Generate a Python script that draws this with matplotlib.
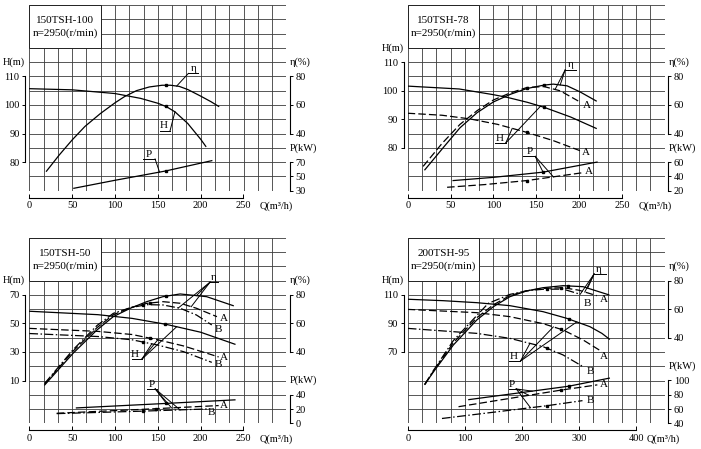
import numpy as np
import matplotlib
matplotlib.use("Agg")
import matplotlib.pyplot as plt
from matplotlib.patches import Rectangle
from matplotlib.transforms import blended_transform_factory

plt.rcParams['font.family'] = ['Liberation Serif', 'DejaVu Serif']
plt.rcParams['font.size'] = 7.5

# ---------------- 150TSH-100 ----------------
t100_h_q = [0, 50, 100, 130, 150, 160, 170, 185, 200, 206]
t100_h = [105.7, 105.3, 104.0, 102.3, 100.6, 99.4, 97.6, 93.5, 88.0, 85.5]
t100_eta_q = [20, 35, 50, 65, 83, 100, 111, 125, 140, 155, 165, 175, 185, 200, 212, 221]
t100_eta = [13.6, 25, 35.5, 45, 54, 61.5, 65.8, 70, 72.6, 73.8, 73.8, 73, 70.8, 66.2, 62.3, 59]
t100_p_q = [52, 100, 159, 213]
t100_p = [33.3, 44.5, 57.5, 72.0]

# ---------------- 150TSH-78 ----------------
t78_h_q = [0, 60, 100, 117, 140, 159, 190, 220]
t78_h = [101.6, 100.6, 98.6, 97.6, 95.9, 94.2, 90.8, 86.8]
t78_ha_q = [0, 40, 73, 105, 139, 170, 201]
t78_ha = [92.1, 91.4, 90.1, 88.2, 85.4, 82.5, 79.0]
t78_eta_q = [20, 42, 61, 81, 100, 120, 139, 159, 170, 186, 201, 220]
t78_eta = [14.6, 30.5, 44, 54.6, 62.1, 67.5, 71.5, 73.9, 74.6, 73.4, 69.2, 62.8]
t78_etaa_q = [18, 40, 61, 81, 100, 120, 139, 159, 178, 199]
t78_etaa = [17, 33, 46.4, 56, 63.5, 68.5, 72.2, 72.9, 69.9, 62.8]
t78_p_q = [53, 100, 158, 221]
t78_p = [34.1, 38.6, 45.9, 60.0]
t78_pa_q = [46, 90, 139, 203]
t78_pa = [24.7, 28.5, 34.1, 44.9]

# ---------------- 150TSH-50 ----------------
t50_h_q = [0, 80, 120, 160, 200, 240]
t50_h = [58.5, 56.1, 53.5, 49.3, 43.8, 35.4]
t50_ha_q = [0, 80, 120, 150, 180, 221]
t50_ha = [46.5, 44.4, 42.2, 38.5, 34.2, 26.5]
t50_hb_q = [0, 80, 120, 150, 180, 213]
t50_hb = [42.9, 40.8, 38.5, 34.8, 30.2, 22.7]
t50_eta_q = [18, 51, 79, 98, 118, 137, 156, 176, 207, 238]
t50_eta = [16.9, 39, 55.4, 64.7, 70.6, 75.2, 78.7, 80.6, 78.7, 72.4]
t50_etaa_q = [18, 51, 79, 98, 118, 137, 156, 176, 195, 219]
t50_etaa = [17.5, 40.5, 57, 66, 71, 74, 75.2, 74.1, 70.6, 64.7]
t50_etab_q = [18, 51, 79, 98, 118, 137, 156, 176, 195, 213]
t50_etab = [18, 41.5, 58.5, 67, 71, 73.1, 72.9, 70.6, 65.9, 58.9]
t50_p_q = [55, 150, 240]
t50_p = [21.6, 27.3, 32.9]
t50_pa_q = [32, 130, 221]
t50_pa = [14.1, 19.5, 24.9]
t50_pb_q = [32, 130, 209]
t50_pb = [13.6, 17.0, 20.2]

# ---------------- 200TSH-95 ----------------
t95_h_q = [0, 62, 121, 179, 237, 278, 319, 340, 353]
t95_h = [106.9, 105.9, 104.5, 102.4, 98.2, 93.6, 87.7, 83.0, 79.0]
t95_ha_q = [0, 121, 179, 237, 272, 307, 340]
t95_ha = [99.8, 97.5, 94.7, 89.8, 85.4, 78.4, 70.2]
t95_hb_q = [0, 121, 179, 237, 272, 307]
t95_hb = [86.5, 83.0, 79.5, 73.7, 67.9, 59.7]
t95_eta_q = [30, 45, 80, 121, 150, 179, 208, 237, 272, 307, 352]
t95_eta = [7.3, 16, 34.9, 52.4, 61.7, 68.7, 72.7, 75, 76.4, 75.7, 70]
t95_etaa_q = [30, 45, 80, 121, 150, 179, 208, 237, 272, 300, 331]
t95_etaa = [7.3, 16.5, 36.5, 54, 63, 69.5, 72.8, 74.5, 75, 73.2, 69.4]
t95_etab_q = [30, 45, 80, 121, 141, 179, 208, 237, 272, 302]
t95_etab = [7.3, 17, 38, 55.5, 64, 70.3, 72.8, 73.9, 74, 70.4]
t95_p_q = [107, 282, 353]
t95_p = [73.2, 92.0, 103.3]
t95_pa_q = [89, 268, 332]
t95_pa = [63.3, 86.5, 93.9]
t95_pb_q = [60, 244, 306]
t95_pb = [46.8, 64.7, 71.8]

FIG_W, FIG_H = 701, 449
CELL = 14.28
GRID_W, GRID_H = 18 * CELL, 13 * CELL
STYLES = {'s': '-', 'a': (0, (6, 2.5)), 'b': (0, (7, 2, 1.2, 2))}

fig = plt.figure(figsize=(7.01, 4.49), dpi=100)


def panel(left, top, title, qmax, q_ticks, qlab_x, hlim, h_ticks, elim, e_ticks,
          plim, p_ticks, lab_h, curves, leaders, tags, dots):
    rect = [left / FIG_W, 1 - (top + GRID_H) / FIG_H, GRID_W / FIG_W, GRID_H / FIG_H]
    ax = fig.add_axes(rect)
    ax.set_xlim(0, qmax)
    ax.set_ylim(*hlim)
    col = qmax / 18
    row = (hlim[1] - hlim[0]) / 13

    # grid and model box
    ax.vlines(np.arange(19) * col, hlim[0], hlim[1], colors='#3a3a3a', lw=0.6, zorder=1)
    ax.hlines(hlim[0] + np.arange(14) * row, 0, qmax, colors='#3a3a3a', lw=0.6, zorder=1)
    ax.add_patch(Rectangle((0, hlim[1] - 3 * row), 5 * col, 3 * row, fc='white',
                           ec='#222222', lw=0.7, zorder=2))
    ax.text(2.5 * col, hlim[1] - 1.1 * row, title, ha='center', va='center', fontsize=8, zorder=3)
    ax.text(2.5 * col, hlim[1] - 2.0 * row, 'n=2950(r/min)', ha='center', va='center',
            fontsize=8, zorder=3)

    for s in ['top', 'right']:
        ax.spines[s].set_visible(False)
    ax.spines['left'].set_position(('outward', 3))
    ax.spines['left'].set_bounds(h_ticks[0], h_ticks[-1])
    ax.spines['bottom'].set_position(('outward', 5))
    ax.spines['bottom'].set_bounds(0, q_ticks[-1])
    ax.set_yticks(h_ticks)
    ax.set_xticks(q_ticks)
    ax.tick_params(axis='y', direction='out', length=2.5, width=0.7, pad=1.5)
    ax.tick_params(axis='x', direction='in', length=3, width=0.7, pad=2.5)

    twins = {}
    for key, lim, ticks in [('e', elim, e_ticks), ('p', plim, p_ticks)]:
        tw = ax.twinx()
        tw.set_ylim(*lim)
        for s in ['top', 'left', 'bottom']:
            tw.spines[s].set_visible(False)
        tw.spines['right'].set_position(('outward', 2.5))
        tw.spines['right'].set_bounds(ticks[0], ticks[-1])
        tw.set_yticks(ticks)
        tw.tick_params(axis='y', direction='out', length=2.5, width=0.7, pad=1.5)
        twins[key] = tw

    tr = blended_transform_factory(ax.transAxes, ax.transData)
    ax.text(-0.102, lab_h[0], 'H(m)', transform=tr, ha='left', va='center')
    ax.text(1.014, lab_h[1], 'η(%)', transform=tr, ha='left', va='center')
    ax.text(1.014, lab_h[2], 'P(kW)', transform=tr, ha='left', va='center')
    ax.annotate('Q(m³/h)', xy=(qlab_x, 0), xycoords='axes fraction', xytext=(0, -11.5),
                textcoords='offset points', ha='left', va='center')

    def to_h(scale, v):
        if scale == 'h':
            return v
        lim = elim if scale == 'e' else plim
        return hlim[0] + (v - lim[0]) * (hlim[1] - hlim[0]) / (lim[1] - lim[0])

    # curves
    table = {}
    for name, scale, q, v, style in curves:
        target = ax if scale == 'h' else twins[scale]
        target.plot(q, v, color='black', lw=0.9, ls=STYLES[style], zorder=4)
        table[name] = (scale, q, v)

    def point(name, q):
        scale, cq, cv = table[name]
        return to_h(scale, np.interp(q, cq, cv))

    for name, q in dots:
        ax.plot([q], [point(name, q)], 's', ms=1.6, color='black', zorder=5)

    # labels with leader lines
    for txt, tx, u0, u1, uy, ex, targets in leaders:
        ax.plot([u0, u1], [uy, uy], color='black', lw=0.7, zorder=5)
        ax.annotate(txt, xy=(tx, uy), xytext=(0, 0.3), textcoords='offset points',
                    ha='center', va='bottom', fontsize=8, zorder=6)
        for name, q in targets:
            ax.plot([ex, q], [uy, point(name, q)], color='black', lw=0.7, zorder=5)

    for txt, tx, ty in tags:
        ax.text(tx, ty, txt, ha='center', va='center', fontsize=8, zorder=6)


panel(29.3, 5, '150TSH-100', 300, [0, 50, 100, 150, 200, 250], 0.898,
      (70, 135), [80, 90, 100, 110], (0, 130), [40, 60, 80], (30, 290), [30, 50, 70],
      (115, 115, 85),
      [('h', 'h', t100_h_q, t100_h, 's'),
       ('eta', 'e', t100_eta_q, t100_eta, 's'),
       ('p', 'p', t100_p_q, t100_p, 's')],
      [('η', 191.5, 185.7, 197.4, 111.05, 185.7, [('eta', 172)]),
       ('H', 156.5, 152, 164.3, 91.0, 164.3, [('h', 170)]),
       ('P', 139, 133, 146.8, 81.1, 146.8, [('p', 152)])],
      [],
      [('h', 159), ('eta', 159), ('p', 159)])

panel(407.7, 5, '150TSH-78', 300, [0, 50, 100, 150, 200, 250], 0.898,
      (65, 130), [80, 90, 100, 110], (0, 130), [40, 60, 80], (20, 280), [20, 40, 60],
      (115, 110, 80),
      [('h', 'h', t78_h_q, t78_h, 's'),
       ('h_a', 'h', t78_ha_q, t78_ha, 'a'),
       ('eta', 'e', t78_eta_q, t78_eta, 's'),
       ('eta_a', 'e', t78_etaa_q, t78_etaa, 'a'),
       ('p', 'p', t78_p_q, t78_p, 's'),
       ('p_a', 'p', t78_pa_q, t78_pa, 'a')],
      [('η', 190.4, 183.8, 196.6, 107.3, 183.8, [('eta', 178), ('eta_a', 172)]),
       ('H', 107, 102, 114.5, 81.7, 114.5, [('h', 155), ('h_a', 122)]),
       ('P', 143, 135, 148.8, 77.0, 148.8, [('p', 158), ('p_a', 170)])],
      [('A', 209, 94.8), ('A', 208.3, 78.2), ('A', 211, 71.6)],
      [('h', 159), ('eta', 159), ('p', 158), ('h_a', 139), ('eta_a', 139), ('p_a', 139)])

panel(29.3, 237.7, '150TSH-50', 300, [0, 50, 100, 150, 200, 250], 0.898,
      (-20, 110), [10, 30, 50, 70], (-10, 120), [40, 60, 80], (0, 260), [0, 20, 40],
      (80, 80, 10),
      [('h', 'h', t50_h_q, t50_h, 's'),
       ('h_a', 'h', t50_ha_q, t50_ha, 'a'),
       ('h_b', 'h', t50_hb_q, t50_hb, 'b'),
       ('eta', 'e', t50_eta_q, t50_eta, 's'),
       ('eta_a', 'e', t50_etaa_q, t50_etaa, 'a'),
       ('eta_b', 'e', t50_etab_q, t50_etab, 'b'),
       ('p', 'p', t50_p_q, t50_p, 's'),
       ('p_a', 'p', t50_pa_q, t50_pa, 'a'),
       ('p_b', 'p', t50_pb_q, t50_pb, 'b')],
      [('η', 215, 211, 220.8, 78.9, 211, [('eta', 195), ('eta_a', 189), ('eta_b', 174)]),
       ('H', 123.3, 119.5, 131.2, 24.8, 131.2, [('h', 172), ('h_a', 150), ('h_b', 143)]),
       ('P', 143, 137, 148.8, 4.1, 147, [('p', 160), ('p_a', 166), ('p_b', 176)])],
      [('A', 227.4, 53.5), ('B', 220.8, 46), ('A', 227.4, 25.8), ('B', 220.8, 21),
       ('A', 227.4, -7.6), ('B', 213, -12.4)],
      [('h', 158), ('eta', 160), ('h_a', 141), ('eta_a', 141), ('h_b', 133), ('eta_b', 133),
       ('p', 160), ('p_a', 148), ('p_b', 133)])

panel(407.7, 237.7, '200TSH-95', 450, [0, 100, 200, 300, 400], 0.93,
      (20, 150), [70, 90, 110], (-20, 110), [40, 60, 80], (40, 300), [40, 60, 80, 100],
      (120, 130, 60),
      [('h', 'h', t95_h_q, t95_h, 's'),
       ('h_a', 'h', t95_ha_q, t95_ha, 'a'),
       ('h_b', 'h', t95_hb_q, t95_hb, 'b'),
       ('eta', 'e', t95_eta_q, t95_eta, 's'),
       ('eta_a', 'e', t95_etaa_q, t95_etaa, 'a'),
       ('eta_b', 'e', t95_etab_q, t95_etab, 'b'),
       ('p', 'p', t95_p_q, t95_p, 's'),
       ('p_a', 'p', t95_pa_q, t95_pa, 'a'),
       ('p_b', 'p', t95_pb_q, t95_pb, 'b')],
      [('η', 335, 326.3, 346.8, 124.6, 326.3, [('eta', 315), ('eta_a', 310), ('eta_b', 302)]),
       ('H', 185.7, 177, 197.4, 63.6, 197.4, [('h', 296), ('h_a', 255), ('h_b', 214)]),
       ('P', 182.8, 177, 197.4, 44.1, 190, [('p', 218), ('p_a', 212), ('p_b', 215)])],
      [('A', 342.7, 106.5), ('B', 314.6, 103.6), ('A', 342.7, 67), ('B', 319, 56.4),
       ('A', 342.7, 47), ('B', 319, 35.9)],
      [('h', 282), ('eta', 280), ('p', 282), ('h_a', 268), ('eta_a', 268), ('p_a', 268),
       ('h_b', 244), ('eta_b', 244), ('p_b', 244)])

fig.savefig('out.png', dpi=100, facecolor='white')
